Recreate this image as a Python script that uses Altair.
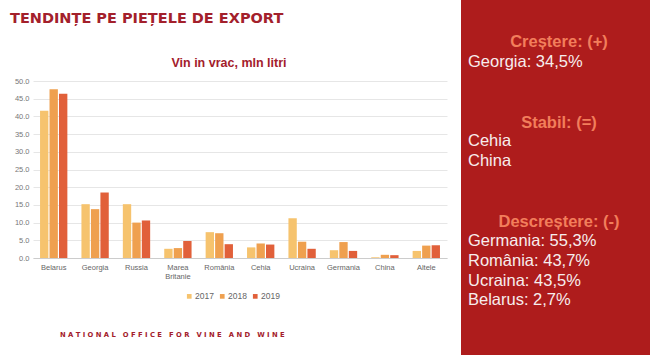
import altair as alt
import pandas as pd

countries = ["Belarus", "Georgia", "Russia", "Marea Britanie", "România",
             "Cehia", "Ucraina", "Germania", "China", "Altele"]
years = ["2017", "2018", "2019"]
v2017 = [41.6, 15.2, 15.2, 2.6, 7.3, 3.0, 11.2, 2.2, 0.2, 2.0]
v2018 = [47.7, 13.8, 10.0, 2.8, 7.0, 4.1, 4.6, 4.5, 0.9, 3.5]
v2019 = [46.4, 18.5, 10.6, 4.8, 3.9, 3.8, 2.6, 2.0, 0.8, 3.6]
y_ticks = [0, 5, 10, 15, 20, 25, 30, 35, 40, 45, 50]

title_text = "TENDINȚE PE PIEȚELE DE EXPORT"
subtitle_text = "Vin in vrac, mln litri"
footer_text = "NATIONAL OFFICE FOR VINE AND WINE"
panel_heads = ["Creștere: (+)", "Stabil: (=)", "Descreștere: (-)"]
panel_up = ["Georgia: 34,5%"]
panel_same = ["Cehia", "China"]
panel_down = ["Germania: 55,3%", "România: 43,7%", "Ucraina: 43,5%", "Belarus: 2,7%"]

rows = []
for i, c in enumerate(countries):
    for y, vals in zip(years, [v2017, v2018, v2019]):
        rows.append({"country": c, "year": y, "value": vals[i]})
df = pd.DataFrame(rows)

# plot area origin in page: left=33, top=81
L, T = 33, 81
W, H = 414, 177

blank = alt.Data(values=[{}])

red_panel = alt.Chart(blank).mark_rect(color="#AE1C1C").encode(
    x=alt.value(461 - L), x2=alt.value(660 - L),
    y=alt.value(-T - 5), y2=alt.value(365 - T)
)

bars = alt.Chart(df).mark_bar().encode(
    x=alt.X("country:N", sort=countries, title=None,
            scale=alt.Scale(paddingInner=0.34, paddingOuter=0.17),
            axis=alt.Axis(labelAngle=0, labelFontSize=7.5, labelColor="#666666",
                          labelFont="Liberation Sans", domainColor="#CCCCCC",
                          ticks=False, labelPadding=5,
                          labelExpr="datum.value == 'Marea Britanie' ? ['Marea', 'Britanie'] : datum.value")),
    xOffset=alt.XOffset("year:N", sort=years, scale=alt.Scale(paddingInner=0.12)),
    y=alt.Y("value:Q", title=None,
            scale=alt.Scale(domain=[0, 50], nice=False),
            axis=alt.Axis(values=y_ticks, format=".1f", labelFontSize=7.5,
                          labelColor="#777777", labelFont="Liberation Sans",
                          domain=False, ticks=False, gridColor="#E6E6E6",
                          labelPadding=4)),
    color=alt.Color("year:N", sort=years,
                    scale=alt.Scale(domain=years, range=["#F6C36E", "#EFA04F", "#E1603A"]),
                    legend=alt.Legend(orient="none", legendX=152, legendY=211,
                                      direction="horizontal", title=None,
                                      symbolType="square", symbolSize=22,
                                      labelFontSize=8.5, labelColor="#666666",
                                      labelFont="Liberation Sans",
                                      columnPadding=4, symbolStrokeWidth=0,
                                      labelOffset=1.5))
)

def txt(text, x, y, size, color, bold=False, align="left", font="Liberation Sans"):
    return alt.Chart(blank).mark_text(
        text=text, x=x - L, y=y - T, fontSize=size, color=color,
        fontWeight="bold" if bold else "normal", align=align,
        baseline="middle", font=font
    ).encode(opacity=alt.value(1))

NB = "\u00a0"
footer_spaced = (NB * 3).join(NB.join(w) for w in footer_text.split(" "))

layers = [red_panel, bars]
layers.append(txt(title_text, 10, 19, 14.5, "#A3202B", bold=True, font="DejaVu Sans"))
layers.append(txt(subtitle_text, 229, 63, 12.5, "#A3202B", bold=True, align="center"))
layers.append(txt(footer_spaced, 60, 335, 6.8, "#A3202B", bold=True, font="DejaVu Sans"))

head_color = "#F27E5B"
body_color = "#F7EDED"
cx = 559
fs = 16.5
layers.append(txt(panel_heads[0], cx, 42, fs, head_color, bold=True, align="center"))
for i, t in enumerate(panel_up):
    layers.append(txt(t, 468, 62 + 20 * i, fs, body_color))
layers.append(txt(panel_heads[1], cx, 123, fs, head_color, bold=True, align="center"))
for i, t in enumerate(panel_same):
    layers.append(txt(t, 468, 141 + 20.2 * i, fs, body_color))
layers.append(txt(panel_heads[2], cx, 221.5, fs, head_color, bold=True, align="center"))
for i, t in enumerate(panel_down):
    layers.append(txt(t, 468, 241 + 19.8 * i, fs, body_color))

chart = alt.layer(*layers).properties(
    width=W, height=H,
    padding={"left": L, "top": T, "right": 650 - L - W, "bottom": 355 - T - H},
    autosize=alt.AutoSizeParams(type="none"),
    background="white"
).configure_view(stroke=None)

chart.save("out.html", embed_options={"renderer": "svg", "actions": False})
